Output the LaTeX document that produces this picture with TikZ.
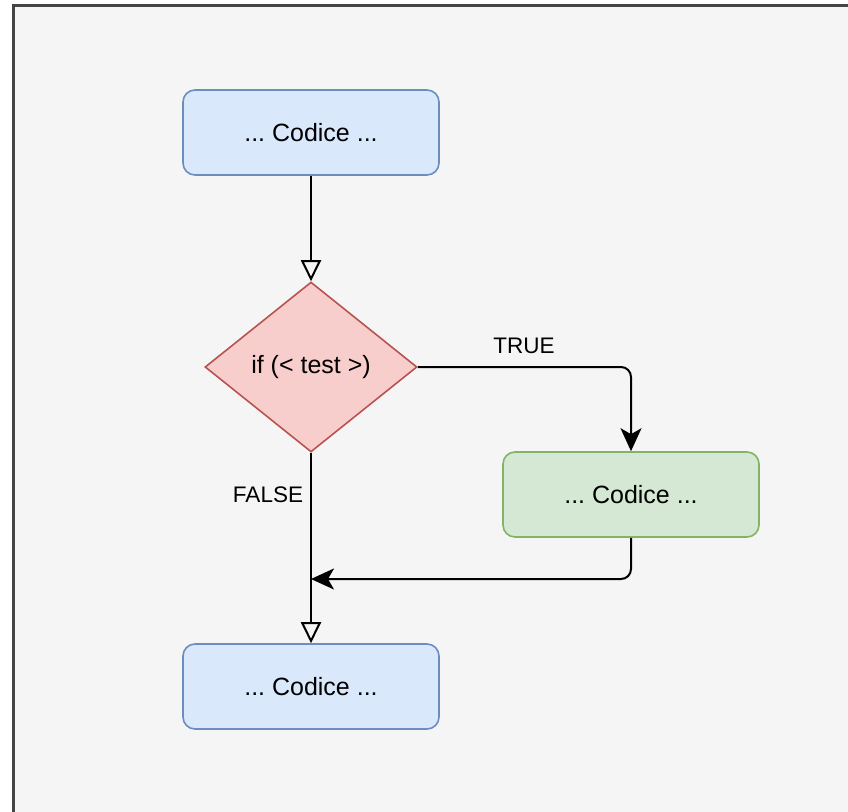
\documentclass[tikz,border=0pt]{standalone}
\usepackage{fontspec}
\setmainfont{Liberation Sans}
\frenchspacing
\usetikzlibrary{shapes.geometric,arrows.meta}
\definecolor{bgfill}{HTML}{F5F5F5}
\definecolor{frame}{HTML}{444444}
\definecolor{bluefill}{HTML}{DAE8FC}
\definecolor{bluedraw}{HTML}{6C8EBF}
\definecolor{redfill}{HTML}{F8CECC}
\definecolor{reddraw}{HTML}{B85450}
\definecolor{greenfill}{HTML}{D5E8D4}
\definecolor{greendraw}{HTML}{82B366}
\tikzset{
  codebox/.style={rectangle, rounded corners=12pt, line width=1.6pt,
    minimum width=256pt, minimum height=85pt, inner sep=0pt,
    font=\fontsize{25}{29}\selectfont},
  bluebox/.style={codebox, fill=bluefill, draw=bluedraw},
  greenbox/.style={codebox, fill=greenfill, draw=greendraw},
  testbox/.style={diamond, aspect=1.25, fill=redfill, draw=reddraw,
    line width=1.6pt, minimum width=212pt, minimum height=170pt, inner sep=0pt,
    font=\fontsize{25}{29}\selectfont},
  flow/.style={line width=2pt, draw=black, rounded corners=10pt},
  openhead/.style={-{Triangle[open,length=21pt,width=20pt,fill=bgfill]}},
  fullhead/.style={-{Stealth[length=23pt,width=21pt,inset=6pt]}},
  edgelabel/.style={font=\fontsize{22.5}{26}\selectfont, inner sep=0pt}
}
\begin{document}
\begin{tikzpicture}[x=1pt,y=-1pt]
  \useasboundingbox (0,0) rectangle (848,811);
  \fill[white] (0,0) rectangle (848,811);
  % canvas with its frame, running past the right and bottom edges
  \begin{scope}
    \clip (0,0) rectangle (848,811);
    \draw[frame, fill=bgfill, line width=3pt] (13.5,5.5) rectangle (860,830);
  \end{scope}

  \node[bluebox] (start) at (311,132.5) {... Codice ...};
  \node[testbox] (test) at (311,367) {if (< test >)};
  \node[greenbox] (thenblk) at (631,494.5) {... Codice ...};
  \node[bluebox] (next) at (311,686.5) {... Codice ...};

  \coordinate (trueturn) at (631,367);
  \coordinate (backturn) at (631,579);
  \coordinate (joinpt) at (311,579);

  \draw[flow, openhead] (start.south) -- (test.north);
  \draw[flow, fullhead] (test.east) -- (trueturn) -- (thenblk.north);
  \draw[flow, fullhead] (thenblk.south) -- (backturn) -- (joinpt);
  \draw[flow, openhead] (test.south) -- (next.north);

  \node[edgelabel] (truelbl) at (524,346) {TRUE};
  \node[edgelabel] (falselbl) at (268,495) {FALSE};
\end{tikzpicture}
\end{document}
